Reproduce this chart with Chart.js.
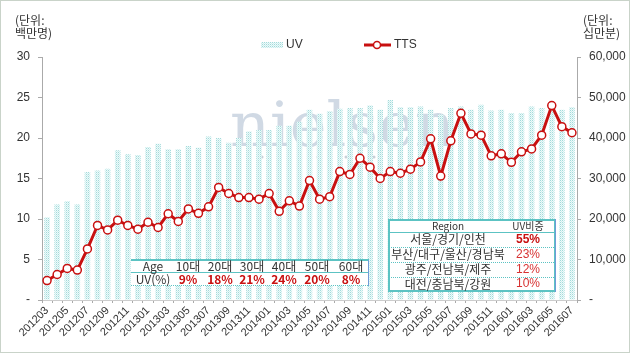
<!DOCTYPE html>
<html>
<head>
<meta charset="utf-8">
<script src="https://cdn.jsdelivr.net/npm/chart.js@4"></script>
<style>
  html, body { margin: 0; padding: 0; background: #fff; }
  #wrap { width: 630px; height: 353px; position: relative; }
</style>
</head>
<body>
<div id="wrap"><canvas id="uv-tts"></canvas></div>
<script>
const months = ['201203','201204','201205','201206','201207','201208','201209','201210','201211','201212',
  '201301','201302','201303','201304','201305','201306','201307','201308','201309','201310','201311','201312',
  '201401','201402','201403','201404','201405','201406','201407','201408','201409','201410','201411','201412',
  '201501','201502','201503','201504','201505','201506','201507','201508','201509','201510','201511','201512',
  '201601','201602','201603','201604','201605','201606','201607'];

// UV (백만명)
const uv = [10.2, 11.8, 12.2, 11.8, 15.8, 16.0, 16.2, 18.5, 18.0, 17.9,
  18.9, 19.3, 18.6, 18.6, 19.0, 18.8, 20.2, 20.0, 19.4, 20.0,
  20.8, 21.0, 21.0, 21.5, 21.5, 22.0, 23.5, 23.0, 23.3, 23.6,
  23.7, 23.7, 24.0, 23.5, 24.7, 23.8, 23.8, 23.9, 23.5, 22.9,
  23.7, 23.9, 23.5, 24.1, 23.4, 23.5, 23.1, 23.1, 23.9, 23.7,
  23.6, 23.5, 23.8];

// TTS (십만분)
const tts = [4800, 6300, 7800, 7400, 12600, 18400, 17300, 19700, 18400, 17500,
  19200, 17900, 21300, 19400, 22500, 21400, 23000, 27800, 26300, 25300,
  25300, 24900, 26300, 21900, 24500, 23200, 29500, 24900, 25500, 31700,
  31000, 35000, 32800, 30000, 31700, 31300, 32300, 34100, 39800, 30600,
  39300, 46100, 41000, 40700, 35600, 36100, 34000, 36600, 37300, 40700,
  48000, 42800, 41300];

const ageGroups = ['10대', '20대', '30대', '40대', '50대', '60대'];
const ageShare = ['9%', '18%', '21%', '24%', '20%', '8%'];

const regions = ['서울/경기/인천', '부산/대구/울산/경남북', '광주/전남북/제주', '대전/충남북/강원'];
const regionShare = ['55%', '23%', '12%', '10%'];

const RED = 'rgb(200, 16, 16)';
const TEXT = '#333';
const NUM_FONT = 'Liberation Sans';
const KR_FONT = '"Noto Sans CJK KR"';

// dotted light teal fill for the bars
function barPattern() {
  const c = document.createElement('canvas');
  c.width = 2; c.height = 2;
  const g = c.getContext('2d');
  g.fillStyle = '#eefafa'; g.fillRect(0, 0, 2, 2);
  g.fillStyle = '#a3dada'; g.fillRect(0, 0, 1, 1);
  g.fillStyle = '#cdeeee'; g.fillRect(1, 1, 1, 1);
  return g.createPattern(c, 'repeat');
}

const canvas = document.getElementById('uv-tts');
canvas.width = 630; canvas.height = 353;
const ctx = canvas.getContext('2d');
const pat = barPattern();

const extras = {
  id: 'extras',
  beforeDatasetsDraw(chart) {
    const c = chart.ctx;
    c.save();
    // watermark
    c.fillStyle = 'rgba(150, 170, 195, 0.45)';
    c.font = '62px "DejaVu Serif"';
    c.textAlign = 'left';
    c.textBaseline = 'alphabetic';
    c.fillText('nielsen', 230, 146);
    c.fillStyle = 'rgba(150, 160, 175, 0.5)';
    [262, 290, 318, 346, 374].forEach(x => {
      c.beginPath(); c.arc(x, 157, 1.5, 0, Math.PI * 2); c.fill();
    });
    c.restore();
  },
  afterDraw(chart) {
    const c = chart.ctx;
    c.save();
    // frame
    c.strokeStyle = '#c9d3c9';
    c.lineWidth = 1;
    c.strokeRect(0.5, 0.5, 629, 352);

    // unit labels
    c.fillStyle = TEXT;
    c.font = '12px ' + KR_FONT;
    c.textAlign = 'left';
    c.textBaseline = 'middle';
    c.fillText('(단위:', 15, 20);
    c.fillText('백만명)', 15, 33);
    c.fillText('(단위:', 583, 20);
    c.fillText('십만분)', 583, 33);

    // legend
    c.fillStyle = pat;
    c.fillRect(261, 42, 22, 6);
    c.fillStyle = TEXT;
    c.font = '12px ' + NUM_FONT;
    c.fillText('UV', 286, 45);
    c.strokeStyle = RED;
    c.lineWidth = 3;
    c.beginPath(); c.moveTo(364, 45); c.lineTo(391, 45); c.stroke();
    c.fillStyle = '#fff';
    c.lineWidth = 1.5;
    c.beginPath(); c.arc(377, 45, 3.5, 0, Math.PI * 2); c.fill(); c.stroke();
    c.fillStyle = TEXT;
    c.fillText('TTS', 394, 45);

    // age table
    c.fillStyle = '#fff';
    c.fillRect(132, 261, 236, 24);
    c.strokeStyle = '#5cc3c3';
    c.lineWidth = 2;
    c.beginPath(); c.moveTo(131, 260); c.lineTo(369, 260); c.stroke();
    c.lineWidth = 1;
    c.beginPath(); c.moveTo(131, 272.5); c.lineTo(369, 272.5); c.stroke();
    c.setLineDash([1, 1]);
    c.beginPath(); c.moveTo(131, 285.5); c.lineTo(369, 285.5); c.stroke();
    c.setLineDash([]);
    c.strokeStyle = '#6f9bd8';
    c.beginPath(); c.moveTo(368.5, 260); c.lineTo(368.5, 286); c.stroke();
    c.textAlign = 'center';
    c.fillStyle = TEXT;
    c.font = '12px ' + KR_FONT;
    c.fillText('Age', 153, 266);
    c.fillText('UV(%)', 153, 279);
    const ageX = [188, 220, 252, 284, 317, 351];
    ageGroups.forEach((a, i) => {
      c.fillStyle = TEXT;
      c.font = '12px ' + KR_FONT;
      c.fillText(a, ageX[i], 266);
      c.fillStyle = RED;
      c.font = 'bold 12px ' + KR_FONT;
      c.fillText(ageShare[i], ageX[i], 279);
    });

    // region table
    c.fillStyle = '#fff';
    c.fillRect(389, 220, 166, 70);
    c.strokeStyle = '#5cc3c3';
    c.lineWidth = 2;
    c.strokeRect(389, 220, 166, 71);
    c.lineWidth = 1;
    c.beginPath(); c.moveTo(389, 232.5); c.lineTo(555, 232.5); c.stroke();
    c.setLineDash([1, 1]);
    [247.5, 262.5, 277.5].forEach(y => {
      c.beginPath(); c.moveTo(389, y); c.lineTo(555, y); c.stroke();
    });
    c.setLineDash([]);
    c.strokeStyle = '#6f9bd8';
    c.beginPath(); c.moveTo(555.5, 219); c.lineTo(555.5, 292); c.stroke();
    c.fillStyle = TEXT;
    c.font = '10px ' + KR_FONT;
    c.fillText('Region', 448, 226);
    c.fillText('UV비중', 528, 226);
    const rowY = [239.5, 254.5, 269.5, 284];
    regions.forEach((r, i) => {
      c.fillStyle = TEXT;
      c.font = '12px ' + KR_FONT;
      c.fillText(r, 448, rowY[i]);
      c.fillStyle = i === 0 ? RED : 'rgb(215, 50, 50)';
      c.font = (i === 0 ? 'bold ' : '') + '12px ' + NUM_FONT;
      c.fillText(regionShare[i], 528, rowY[i]);
    });
    c.restore();
  }
};

const myChart = new Chart(ctx, {
  type: 'bar',
  data: {
    labels: months,
    datasets: [{
      type: 'line',
      label: 'TTS',
      data: tts,
      yAxisID: 'y1',
      borderColor: RED,
      borderWidth: 3,
      pointRadius: 4,
      pointBorderWidth: 1.5,
      pointBackgroundColor: '#fff',
      pointBorderColor: RED,
      tension: 0,
      order: 0
    }, {
      label: 'UV',
      data: uv,
      yAxisID: 'y',
      backgroundColor: pat,
      barPercentage: 0.55,
      categoryPercentage: 1,
      order: 1
    }]
  },
  options: {
    responsive: false,
    animation: false,
    layout: { padding: { top: 57, left: 0, right: 0, bottom: 0 } },
    plugins: { legend: { display: false }, tooltip: { enabled: false } },
    scales: {
      x: {
        afterFit: s => { s.height = 53; },
        grid: { drawOnChartArea: false, drawTicks: true, tickLength: 3, color: '#aaa' },
        border: { color: '#ccc' },
        ticks: {
          autoSkip: false,
          minRotation: 45,
          maxRotation: 45,
          padding: 1,
          color: TEXT,
          font: { family: NUM_FONT, size: 11 },
          callback: function (v, i) { return i % 2 === 0 ? this.getLabelForValue(v) : ''; }
        }
      },
      y: {
        position: 'left',
        min: 0, max: 30,
        afterFit: s => { s.width = 42; },
        grid: { drawOnChartArea: false, tickLength: 4, color: '#aaa' },
        border: { color: '#aaa' },
        ticks: {
          stepSize: 5,
          padding: 8,
          color: TEXT,
          font: { family: NUM_FONT, size: 12 },
          callback: v => v === 0 ? '-' : v
        }
      },
      y1: {
        position: 'right',
        min: 0, max: 60000,
        afterFit: s => { s.width = 53; },
        grid: { drawOnChartArea: false, tickLength: 4, color: '#aaa' },
        border: { color: '#aaa' },
        ticks: {
          stepSize: 10000,
          padding: 8,
          color: TEXT,
          font: { family: NUM_FONT, size: 12 },
          callback: v => v === 0 ? '-' : v.toLocaleString('en-US')
        }
      }
    }
  },
  plugins: [extras]
});
</script>
</body>
</html>
